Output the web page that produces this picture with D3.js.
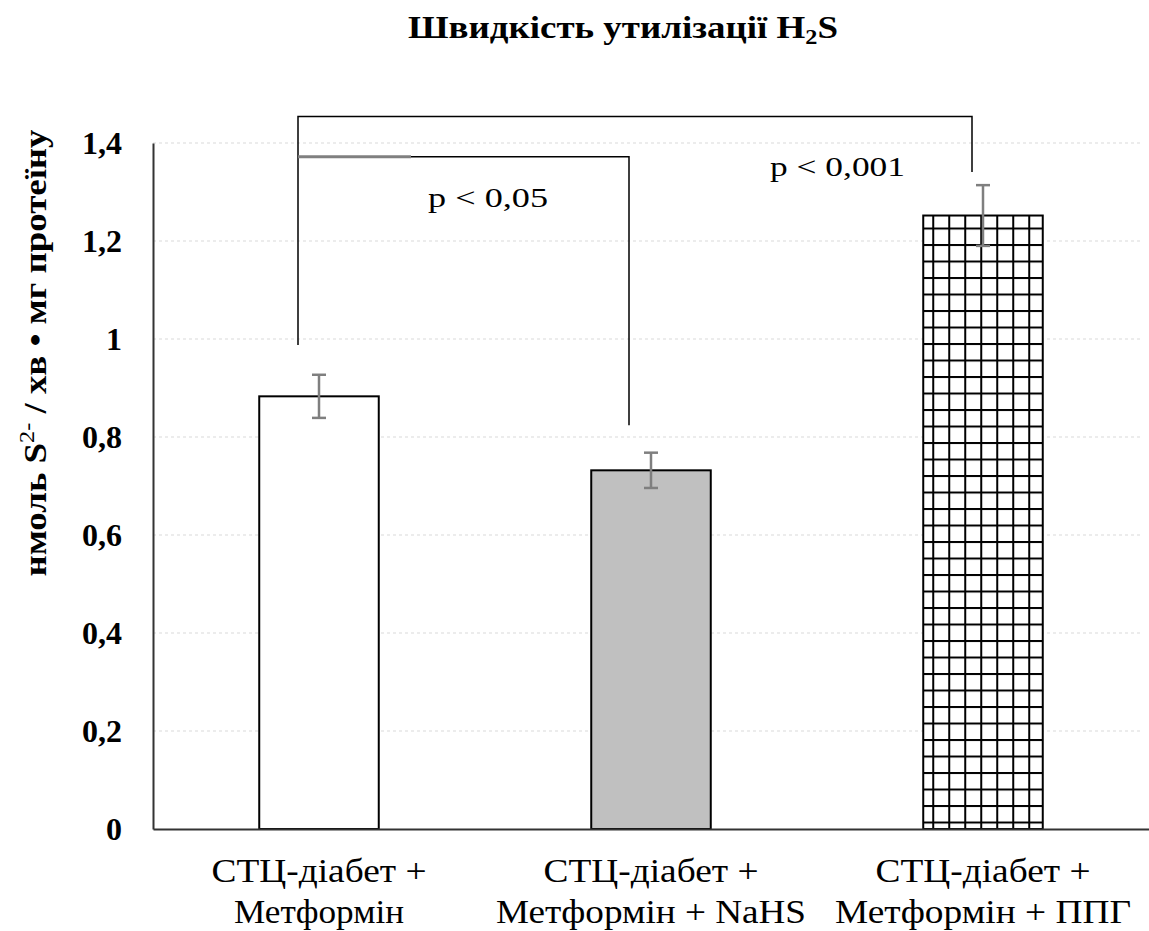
<!DOCTYPE html>
<html>
<head>
<meta charset="utf-8">
<script src="https://cdn.jsdelivr.net/npm/d3@7"></script>
<style>
  body { margin: 0; background: #fff; }
</style>
</head>
<body>
<div id="chart"></div>
<script>
// data
const categories = ["СТЦ-діабет + Метформін", "СТЦ-діабет + Метформін + NaHS", "СТЦ-діабет + Метформін + ППГ"];
const labelLines = [["СТЦ-діабет +", "Метформін"], ["СТЦ-діабет +", "Метформін + NaHS"], ["СТЦ-діабет +", "Метформін + ППГ"]];
const means = [0.883, 0.732, 1.252];
const errors = [0.044, 0.036, 0.062];
const fills = ["#ffffff", "#c0c0c0", "url(#grid)"];
const yTicks = [0, 0.2, 0.4, 0.6, 0.8, 1, 1.2, 1.4];
// significance brackets (levels in data units)
const brackets = [
  { from: 0, to: 2, top: 1.454, leftEnd: 0.988, rightEnd: 1.341, label: "p < 0,001", labelAt: 1.333 },
  { from: 0, to: 1, top: 1.372, leftEnd: 1.372, rightEnd: 0.824, label: "p < 0,05", labelAt: 1.269 }
];

const FONT = "Liberation Serif";
const width = 1149, height = 931;
const margin = { top: 143, right: 0, bottom: 102, left: 153 };

const svg = d3.select("#chart").append("svg").attr("width", width).attr("height", height)
  .attr("font-family", FONT);

const x = d3.scaleBand().domain(categories).range([margin.left, width - margin.right]).padding(0);
const y = d3.scaleLinear().domain([0, 1.4]).range([height - margin.bottom, margin.top]);
const barW = x.bandwidth() * 0.36;
const cx = (i) => x(categories[i]) + x.bandwidth() / 2;
const barX = (i) => cx(i) - barW / 2;

// squeeze/stretch text to the width Word gave it
function fit(sel, w) { sel.attr("textLength", w).attr("lengthAdjust", "spacingAndGlyphs"); }

// cross-hatch pattern for the third bar
const defs = svg.append("defs");
const pat = defs.append("pattern").attr("id", "grid").attr("patternUnits", "userSpaceOnUse")
  .attr("x", barX(2) + 9).attr("y", y(means[2]) + 12).attr("width", 16).attr("height", 16.5);
pat.append("rect").attr("width", 16).attr("height", 16.5).attr("fill", "#fff");
pat.append("rect").attr("x", 0).attr("y", 0).attr("width", 16).attr("height", 2).attr("fill", "#000");
pat.append("rect").attr("x", 0).attr("y", 0).attr("width", 2).attr("height", 16.5).attr("fill", "#000");

// title
const title = svg.append("text").attr("x", 623).attr("y", 38).attr("text-anchor", "middle")
  .attr("font-size", 32).attr("font-weight", "bold");
title.append("tspan").text("Швидкість утилізації H");
title.append("tspan").attr("font-size", 21).attr("dy", 6).text("2");
title.append("tspan").attr("dy", -6).text("S");
fit(title, 430);

// gridlines
svg.append("g")
  .selectAll("line").data(yTicks.filter(d => d > 0)).enter().append("line")
  .attr("x1", margin.left).attr("x2", width - 6)
  .attr("y1", d => y(d)).attr("y2", d => y(d))
  .attr("stroke", "#d9d9d9").attr("stroke-width", 1).attr("stroke-dasharray", "3,3");

// y axis
const yAxis = svg.append("g").attr("transform", "translate(" + margin.left + ",0)")
  .call(d3.axisLeft(y).tickValues(yTicks).tickSize(0).tickPadding(31)
    .tickFormat(d => String(d).replace(".", ",")));
yAxis.select(".domain").attr("stroke", "#333").attr("stroke-width", 2);
yAxis.selectAll("text").attr("font-size", 32).attr("font-weight", "bold")
  .attr("font-family", FONT).attr("fill", "#000").attr("dy", "0.33em");

// y label
const yl = svg.append("text").attr("transform", "translate(46,353) rotate(-90)")
  .attr("text-anchor", "middle").attr("font-size", 32).attr("font-weight", "bold");
yl.append("tspan").text("нмоль S");
yl.append("tspan").attr("font-size", 21).attr("font-weight", "normal").attr("dy", -12).text("2-");
yl.append("tspan").attr("dy", 12).text("  / хв • мг протеїну");
fit(yl, 447);

// bars
svg.selectAll(".bar").data(means).enter().append("rect")
  .attr("class", "bar")
  .attr("x", (d, i) => barX(i))
  .attr("y", d => y(d))
  .attr("width", barW)
  .attr("height", d => y(0) - y(d))
  .attr("fill", (d, i) => fills[i])
  .attr("stroke", "#000").attr("stroke-width", 2);

// x axis
const xAxis = svg.append("g").attr("transform", "translate(0," + y(0) + ")")
  .call(d3.axisBottom(x).tickSize(0).tickFormat(""));
xAxis.select(".domain").attr("stroke", "#333").attr("stroke-width", 2);

// category labels, two lines each
const lineW = [[215, 170], [215, 310], [215, 296]];
labelLines.forEach((lines, i) => {
  lines.forEach((l, j) => {
    const t = svg.append("text").attr("text-anchor", "middle").attr("font-size", 33)
      .attr("x", cx(i)).attr("y", 882 + j * 41).text(l);
    fit(t, lineW[i][j]);
  });
});

// error bars
const eb = svg.selectAll(".err").data(means).enter().append("g").attr("class", "err")
  .attr("stroke", "#7f7f7f").attr("stroke-width", 2.5);
eb.append("line")
  .attr("x1", (d, i) => cx(i)).attr("x2", (d, i) => cx(i))
  .attr("y1", (d, i) => y(d + errors[i])).attr("y2", (d, i) => y(d - errors[i]));
[1, -1].forEach(s => {
  eb.append("line")
    .attr("x1", (d, i) => cx(i) - 7).attr("x2", (d, i) => cx(i) + 7)
    .attr("y1", (d, i) => y(d + s * errors[i])).attr("y2", (d, i) => y(d + s * errors[i]));
});

// significance brackets
const labelLeft = [770, 428], labelW = [135, 120];
brackets.forEach((b, k) => {
  const x1 = cx(b.from) - 21, x2 = cx(b.to) - (b.to === 2 ? 11 : 22);
  svg.append("path")
    .attr("d", d3.line()([[x1, y(b.leftEnd)], [x1, y(b.top)], [x2, y(b.top)], [x2, y(b.rightEnd)]]))
    .attr("fill", "none").attr("stroke", "#000").attr("stroke-width", 1.5);
  const t = svg.append("text").attr("x", labelLeft[k]).attr("y", y(b.labelAt))
    .attr("font-size", 28).text(b.label);
  fit(t, labelW[k]);
});
// thicker grey start of the inner bracket
svg.append("line").attr("x1", cx(0) - 21).attr("x2", cx(0) + 92)
  .attr("y1", y(brackets[1].top)).attr("y2", y(brackets[1].top))
  .attr("stroke", "#808080").attr("stroke-width", 3);
</script>
</body>
</html>
